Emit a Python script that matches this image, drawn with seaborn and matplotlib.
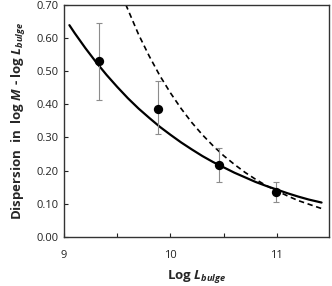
import matplotlib
matplotlib.use("Agg")
import matplotlib.pyplot as plt
import numpy as np
import pandas as pd
import seaborn as sns

# measured dispersion points with error bars
log_l = [9.33, 9.88, 10.46, 10.99]
disp = [0.530, 0.387, 0.216, 0.136]
err_lo = [0.118, 0.078, 0.051, 0.030]
err_hi = [0.116, 0.083, 0.051, 0.029]

# solid curve
solid_x = [9.05, 9.1, 9.2, 9.3, 9.4, 9.5, 9.6, 9.7, 9.8, 9.9, 10.0, 10.1, 10.2,
           10.3, 10.4, 10.5, 10.6, 10.7, 10.8, 10.9, 11.0, 11.1, 11.2, 11.3, 11.42]
solid_y = [0.638, 0.614, 0.569, 0.527, 0.488, 0.452, 0.418, 0.387, 0.359, 0.332,
           0.308, 0.285, 0.264, 0.244, 0.226, 0.210, 0.194, 0.180, 0.166, 0.154,
           0.143, 0.132, 0.122, 0.113, 0.104]

# dashed curve
dash_x = [9.58, 9.7, 9.8, 9.9, 10.0, 10.1, 10.2, 10.3, 10.4, 10.5, 10.6, 10.7,
          10.8, 10.9, 11.0, 11.1, 11.2, 11.3, 11.42]
dash_y = [0.700, 0.610, 0.545, 0.486, 0.434, 0.387, 0.345, 0.308, 0.275, 0.245,
          0.219, 0.195, 0.174, 0.155, 0.139, 0.124, 0.110, 0.099, 0.086]

sns.set_style("ticks")
plt.rcParams["font.family"] = ["Open Sans", "DejaVu Sans"]
plt.rcParams["mathtext.fontset"] = "custom"
plt.rcParams["mathtext.it"] = "Open Sans:italic:bold"
plt.rcParams["mathtext.rm"] = "Open Sans:bold"
plt.rcParams["mathtext.bf"] = "Open Sans:bold"

fig = plt.figure(figsize=(3.32, 2.86), dpi=100)
ax = fig.add_axes([0.193, 0.171, 0.798, 0.813])

sns.lineplot(x=dash_x, y=dash_y, ax=ax, color="black", lw=1.2,
             linestyle=(0, (3.2, 2.2)), sort=False)
sns.lineplot(x=solid_x, y=solid_y, ax=ax, color="black", lw=1.6, sort=False)

ax.errorbar(log_l, disp, yerr=[err_lo, err_hi], fmt="none", ecolor="#8c8c8c",
            elinewidth=0.8, capsize=2.2, capthick=0.8, zorder=3)
sns.scatterplot(x=log_l, y=disp, ax=ax, color="black", s=45, edgecolor="black",
                linewidth=0, zorder=4)

ax.set_xlim(9, 11.49)
ax.set_ylim(0, 0.70)
ax.set_xticks([9, 10, 11])
ax.set_xticks([9.5, 10.5], minor=True)
ax.set_yticks(np.arange(0, 0.71, 0.1))
ax.set_yticklabels([f"{v:.2f}" for v in np.arange(0, 0.71, 0.1)])
ax.tick_params(which="both", direction="in", length=3, width=0.8, labelsize=8,
               colors="#222222", pad=4)
ax.tick_params(axis="x", pad=9)

for s in ax.spines.values():
    s.set_visible(True)
    s.set_color("#333333")
    s.set_linewidth(1.0)

ax.set_xlabel(r"Log $L_{bulge}$", fontsize=9.5, fontweight="bold", labelpad=5)
ax.set_ylabel(r"Dispersion  in  log $M$ - log $L_{bulge}$", fontsize=9.5,
              fontweight="bold", labelpad=6)

fig.savefig("out.png", dpi=100)
plt.close(fig)
